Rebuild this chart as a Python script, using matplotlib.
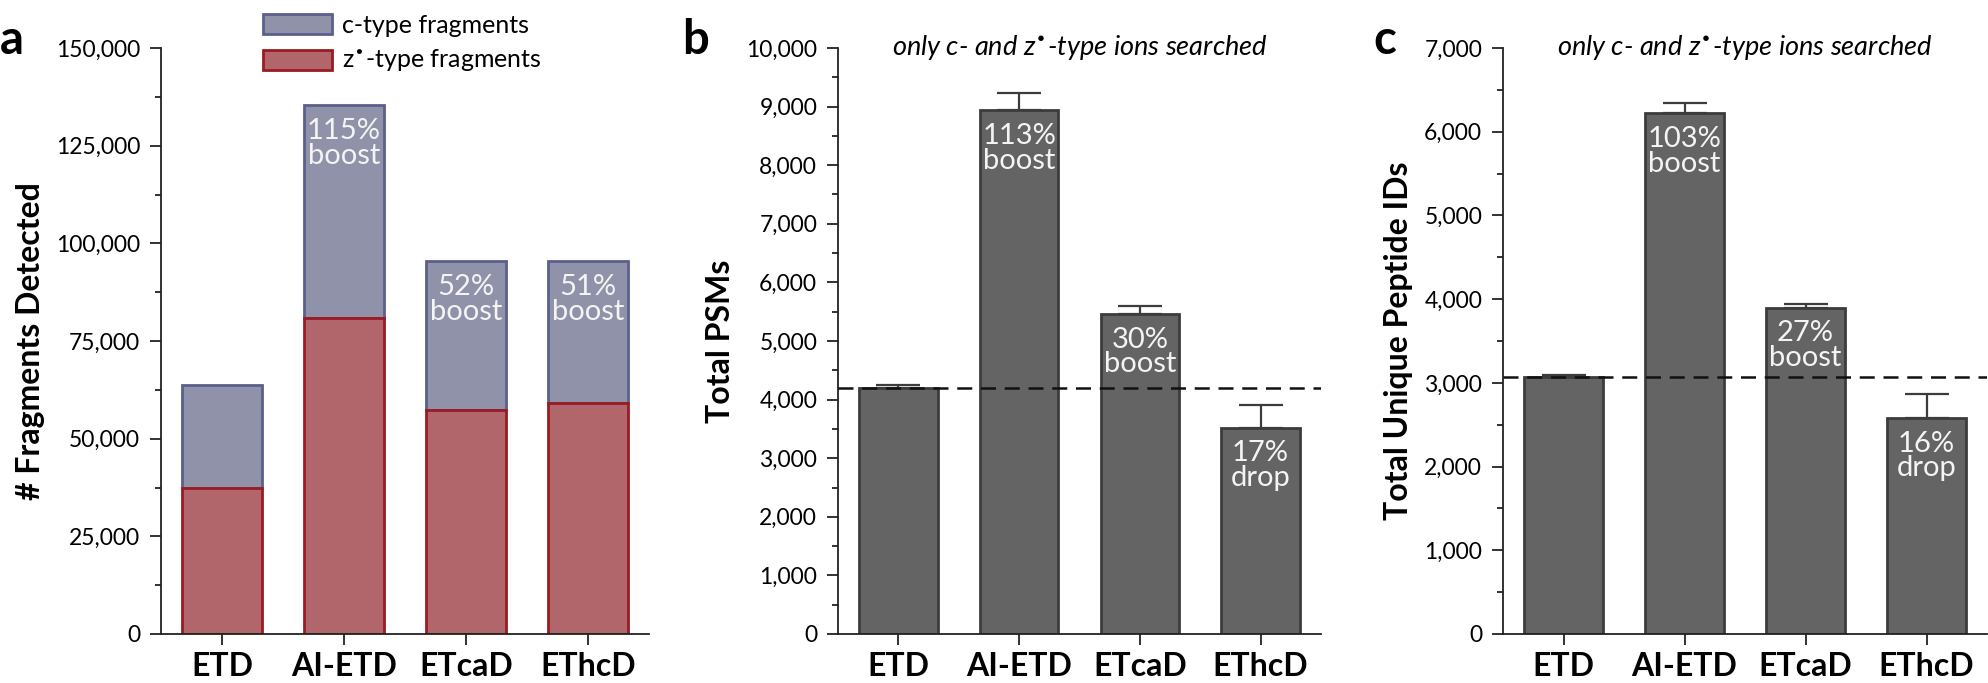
import matplotlib
matplotlib.use("Agg")
import matplotlib.pyplot as plt
from matplotlib.ticker import MultipleLocator, FuncFormatter
import numpy as np

plt.rcParams['font.family'] = ['Lato', 'DejaVu Sans']

methods = ["ETD", "AI-ETD", "ETcaD", "EThcD"]

# a: fragments detected (stacked)
z_frags = [37300, 81000, 57300, 59200]
c_frags = [26500, 54300, 38100, 36200]
frag_labels = ["", "115%\nboost", "52%\nboost", "51%\nboost"]

# b: total PSMs
psms = [4200, 8940, 5460, 3520]
psm_err = [45, 290, 140, 385]
psm_labels = ["", "113%\nboost", "30%\nboost", "17%\ndrop"]

# c: unique peptides
peptides = [3070, 6220, 3900, 2580]
pep_err = [20, 125, 42, 285]
pep_labels = ["", "103%\nboost", "27%\nboost", "16%\ndrop"]

C_FILL, C_EDGE = "#8f92a8", "#5b5f8c"
Z_FILL, Z_EDGE = "#b0666a", "#9a1b22"
BAR_FILL, BAR_EDGE = "#646464", "#3c3c3c"
AX_COL = "#222222"

W, H = 1988, 683
fig = plt.figure(figsize=(W / 100, H / 100), dpi=100)

def make_ax(left, right):
    ax = fig.add_axes([left / W, (H - 634) / H, (right - left) / W, (634 - 48) / H])
    for s in ["top", "right"]:
        ax.spines[s].set_visible(False)
    for s in ["left", "bottom"]:
        ax.spines[s].set_linewidth(1.3)
        ax.spines[s].set_color(AX_COL)
    ax.tick_params(axis="y", which="major", length=8, width=1.3, pad=7,
                   labelsize=16.5, color=AX_COL)
    ax.tick_params(axis="y", which="minor", length=4.5, width=1.3, color=AX_COL)
    ax.tick_params(axis="x", length=8, width=1.3, pad=5, color=AX_COL)
    ax.set_xlim(-0.5, 3.5)
    ax.set_xticks(range(len(methods)))
    ax.set_xticklabels(methods, fontsize=23, fontweight="bold")
    ax.yaxis.set_major_formatter(FuncFormatter(lambda v, p: f"{int(v):,}"))
    return ax

def bar_text(ax, x, tops, labels):
    for xi, t, lab in zip(x, tops, labels):
        if lab:
            ax.annotate(lab, (xi, t), xytext=(0, -9), textcoords="offset points",
                        ha="center", va="top", color="#f4f4f4", fontsize=21,
                        linespacing=0.95, zorder=5)

x = np.arange(len(methods))

# panel a
axa = make_ax(161, 649)
axa.bar(x, c_frags, bottom=z_frags, width=0.65, color=C_FILL, edgecolor=C_EDGE,
        linewidth=2, label="c-type fragments")
axa.bar(x, z_frags, width=0.65, color=Z_FILL, edgecolor=Z_EDGE,
        linewidth=2, label="z$^{\\bullet}$-type fragments")
axa.set_ylim(0, 150000)
axa.yaxis.set_major_locator(MultipleLocator(25000))
axa.yaxis.set_minor_locator(MultipleLocator(12500))
axa.set_ylabel("# Fragments Detected", fontsize=23, fontweight="bold", labelpad=8)
bar_text(axa, x, np.add(z_frags, c_frags), frag_labels)
axa.legend(loc="upper left", bbox_to_anchor=(0.21, 1.058), frameon=False,
           fontsize=18, handlelength=2.75, handleheight=0.85, handletextpad=0.4,
           labelspacing=0.45, borderpad=0, borderaxespad=0)

def simple_panel(left, right, vals, errs, labels, ymax, ylabel):
    ax = make_ax(left, right)
    ax.bar(x, vals, width=0.65, color=BAR_FILL, edgecolor=BAR_EDGE, linewidth=2,
           zorder=2)
    ax.errorbar(x, vals, yerr=[np.zeros(len(vals)), errs], fmt="none",
                ecolor=BAR_EDGE, elinewidth=1.6, capsize=16, capthick=1.6, zorder=1)
    ax.axhline(vals[0], color="#111111", ls=(0, (6, 3.5)), lw=1.8, zorder=4)
    ax.set_ylim(0, ymax)
    ax.yaxis.set_major_locator(MultipleLocator(1000))
    ax.yaxis.set_minor_locator(MultipleLocator(500))
    ax.set_ylabel(ylabel, fontsize=23, fontweight="bold", labelpad=8)
    ax.text(0.5, 1.0, "only c- and z$^{\\bullet}$-type ions searched",
            transform=ax.transAxes, ha="center", va="center", fontsize=19.5,
            style="italic")
    bar_text(ax, x, vals, labels)
    return ax

axb = simple_panel(838, 1321, psms, psm_err, psm_labels, 10000, "Total PSMs")
axc = simple_panel(1503, 1987, peptides, pep_err, pep_labels, 7000,
                   "Total Unique Peptide IDs")

for lab, xp in [("a", 0), ("b", 682), ("c", 1373)]:
    fig.text(xp / W, (H - 54) / H, lab, fontsize=34, fontweight="bold",
             ha="left", va="baseline")

fig.savefig("out.png", dpi=100)
